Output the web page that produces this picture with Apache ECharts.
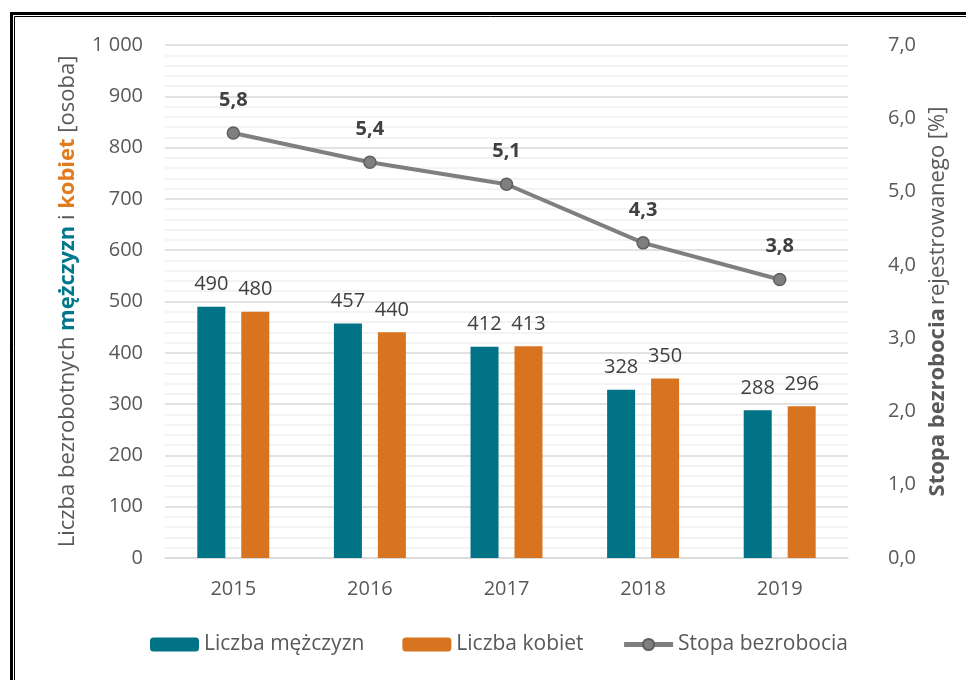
<!DOCTYPE html>
<html>
<head>
<meta charset="utf-8">
<script src="https://cdn.jsdelivr.net/npm/echarts@6/dist/echarts.min.js"></script>
<style>
html,body{margin:0;padding:0;background:#fff;}
#main{width:966px;height:680px;}
</style>
</head>
<body>
<div id="main"></div>
<script>
const years = ['2015', '2016', '2017', '2018', '2019'];
const men = [490, 457, 412, 328, 288];
const women = [480, 440, 413, 350, 296];
const rate = [5.8, 5.4, 5.1, 4.3, 3.8];

const FONT = "'Open Sans', sans-serif";
const chart = echarts.init(document.getElementById('main'));
const option = {
  backgroundColor: '#fff',
  animation: false,
  textStyle: { fontFamily: FONT },
  graphic: [
    { type: 'rect', shape: { x: 11.5, y: 13.5, width: 1000, height: 700 }, style: { fill: 'none', stroke: '#000', lineWidth: 3 }, z: 100 },
    { type: 'rect', shape: { x: 14.5, y: 16.5, width: 1000, height: 700 }, style: { fill: 'none', stroke: '#000', lineWidth: 1 }, z: 100 }
  ],
  grid: { left: 165, right: 118, top: 45, bottom: 122 },
  legend: {
    left: 145, top: 629,
    itemWidth: 49, itemHeight: 14, itemGap: 38,
    textStyle: { fontFamily: FONT, fontSize: 21, color: '#595959' },
    data: [
      { name: 'Liczba mężczyzn' },
      { name: 'Liczba kobiet' },
      { name: 'Stopa bezrobocia', lineStyle: { width: 5, color: '#7f7f7f' } }
    ]
  },
  xAxis: {
    type: 'category', data: years,
    axisLine: { lineStyle: { color: '#d9d9d9', width: 1.5 } },
    axisTick: { show: false },
    axisLabel: { color: '#595959', fontSize: 20, margin: 21, fontFamily: FONT }
  },
  yAxis: [
    {
      type: 'value', min: 0, max: 1000, interval: 100,
      axisLine: { show: false }, axisTick: { show: false },
      axisLabel: { color: '#595959', fontSize: 20, margin: 22, fontFamily: FONT,
        formatter: v => String(v).replace(/\B(?=(\d{3})+(?!\d))/g, ' ') },
      splitLine: { lineStyle: { color: '#d9d9d9', width: 1.5 } },
      minorTick: { show: false, splitNumber: 5 },
      minorSplitLine: { show: true, lineStyle: { color: '#efefef', width: 1.5 } },
      name: '{n|Liczba bezrobotnych }{m|mężczyzn}{n| i }{k|kobiet}{n| [osoba]}',
      nameLocation: 'middle', nameRotate: 90, nameGap: 86,
      nameTextStyle: {
        rich: {
          n: { fontFamily: FONT, fontSize: 22, color: '#595959' },
          m: { fontFamily: FONT, fontSize: 22, color: '#00788c', fontWeight: 'bold' },
          k: { fontFamily: FONT, fontSize: 22, color: '#e07b20', fontWeight: 'bold' }
        }
      }
    },
    {
      type: 'value', min: 0, max: 7, interval: 1, position: 'right',
      axisLine: { show: false }, axisTick: { show: false },
      splitLine: { show: false },
      axisLabel: { color: '#595959', fontSize: 20, margin: 40, fontFamily: FONT,
        formatter: v => v.toFixed(1).replace('.', ',') },
      name: '{b|Stopa bezrobocia} {n|rejestrowanego [%]}',
      nameLocation: 'middle', nameRotate: 90, nameGap: 68,
      nameTextStyle: {
        rich: {
          b: { fontFamily: FONT, fontSize: 22, color: '#595959', fontWeight: 'bold' },
          n: { fontFamily: FONT, fontSize: 22, color: '#595959' }
        }
      }
    }
  ],
  series: [
    {
      name: 'Liczba mężczyzn', type: 'bar', data: men,
      barWidth: 28, barGap: '57%',
      itemStyle: { color: '#007386' },
      label: { show: true, position: 'top', distance: 12, color: '#404040', fontSize: 20, fontFamily: FONT }
    },
    {
      name: 'Liczba kobiet', type: 'bar', data: women,
      barWidth: 28,
      itemStyle: { color: '#d8731f' },
      label: { show: true, position: 'top', distance: 12, color: '#404040', fontSize: 20, fontFamily: FONT }
    },
    {
      name: 'Stopa bezrobocia', type: 'line', yAxisIndex: 1, data: rate,
      symbol: 'circle', symbolSize: 12,
      lineStyle: { color: '#7f7f7f', width: 4 },
      itemStyle: { color: '#7f7f7f', borderColor: '#5f5f5f', borderWidth: 1.5 },
      label: { show: true, position: 'top', distance: 16, color: '#404040', fontSize: 20, fontWeight: 'bold', fontFamily: FONT,
        formatter: p => p.value.toFixed(1).replace('.', ',') },
      z: 5
    }
  ]
};
chart.setOption(option);
</script>
</body>
</html>
